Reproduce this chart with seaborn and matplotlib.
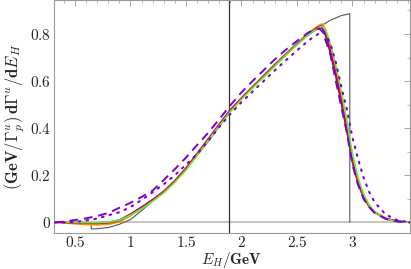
import matplotlib
matplotlib.use("Agg")
import matplotlib.pyplot as plt
import seaborn as sns
from matplotlib.ticker import MultipleLocator, FixedLocator, FuncFormatter

# common E_H grid for the coloured curves
e_h = [0.32, 0.4, 0.5, 0.6, 0.7, 0.8, 0.9, 1.0, 1.1, 1.2, 1.3, 1.4, 1.5, 1.6,
       1.7, 1.8, 1.9, 2.0, 2.1, 2.2, 2.3, 2.4, 2.5, 2.6, 2.65, 2.7, 2.73, 2.76,
       2.8, 2.85, 2.9, 2.95, 3.0, 3.05, 3.1, 3.15, 3.2, 3.3, 3.4, 3.52]

y_purple = [0.001, 0.0, -0.001, -0.002, -0.002, 0.0, 0.01, 0.035, 0.065, 0.097,
            0.132, 0.177, 0.23, 0.292, 0.354, 0.417, 0.478, 0.528, 0.575, 0.62,
            0.666, 0.712, 0.755, 0.797, 0.812, 0.826, 0.825, 0.79, 0.72, 0.62,
            0.505, 0.385, 0.255, 0.165, 0.105, 0.068, 0.043, 0.016, 0.005, 0.0]
y_orange = [0.0, -0.002, -0.006, -0.009, -0.01, -0.008, 0.002, 0.028, 0.06, 0.093,
            0.13, 0.175, 0.228, 0.29, 0.352, 0.415, 0.476, 0.527, 0.575, 0.621,
            0.668, 0.715, 0.76, 0.803, 0.82, 0.837, 0.842, 0.815, 0.75, 0.65,
            0.535, 0.41, 0.27, 0.17, 0.105, 0.065, 0.04, 0.014, 0.004, 0.0]
y_red = [0.001, 0.0, -0.002, -0.003, -0.004, -0.002, 0.008, 0.033, 0.063, 0.095,
         0.13, 0.175, 0.228, 0.29, 0.352, 0.415, 0.476, 0.527, 0.574, 0.62,
         0.667, 0.713, 0.757, 0.80, 0.816, 0.832, 0.834, 0.80, 0.735, 0.635,
         0.52, 0.40, 0.265, 0.17, 0.11, 0.07, 0.045, 0.017, 0.005, 0.0]
y_green = [0.003, 0.002, 0.0, -0.001, -0.001, 0.001, 0.01, 0.03, 0.058, 0.09,
           0.125, 0.17, 0.222, 0.284, 0.347, 0.41, 0.47, 0.522, 0.57, 0.616,
           0.663, 0.71, 0.754, 0.797, 0.812, 0.828, 0.833, 0.815, 0.76, 0.665,
           0.555, 0.43, 0.29, 0.19, 0.12, 0.075, 0.045, 0.015, 0.004, 0.0]
y_dashed = [0.0, 0.003, 0.01, 0.017, 0.027, 0.04, 0.062, 0.083, 0.108, 0.135,
            0.18, 0.226, 0.275, 0.328, 0.38, 0.438, 0.497, 0.552, 0.60, 0.646,
            0.692, 0.733, 0.77, 0.805, 0.818, 0.823, 0.81, 0.77, 0.715, 0.60,
            0.49, 0.38, 0.245, 0.16, 0.10, 0.065, 0.04, 0.015, 0.004, 0.0]
y_dotted = [0.0, 0.0, 0.002, 0.008, 0.016, 0.03, 0.043, 0.065, 0.095, 0.128,
            0.162, 0.2, 0.245, 0.29, 0.345, 0.405, 0.46, 0.51, 0.555, 0.60,
            0.645, 0.688, 0.73, 0.77, 0.788, 0.802, 0.808, 0.798, 0.76, 0.68,
            0.575, 0.48, 0.36, 0.27, 0.19, 0.13, 0.085, 0.033, 0.01, 0.0]

# partonic (thin black) curve
x_black = [0.647, 0.647, 0.7, 0.8, 0.9, 1.0, 1.1, 1.2, 1.3, 1.4, 1.5, 1.6, 1.7,
           1.8, 1.9, 2.0, 2.1, 2.2, 2.3, 2.4, 2.5, 2.6, 2.7, 2.8, 2.9, 2.976, 2.976]
y_black = [0.0, -0.028, -0.027, -0.022, -0.008, 0.012, 0.05, 0.09, 0.128, 0.174,
           0.226, 0.283, 0.343, 0.407, 0.471, 0.525, 0.576, 0.625, 0.672, 0.717,
           0.758, 0.795, 0.83, 0.858, 0.878, 0.886, 0.0]

x_cut = 1.89
x_ticks = [0.5, 1.0, 1.5, 2.0, 2.5, 3.0]

sns.set_style("white")
plt.rcParams["mathtext.fontset"] = "cm"
plt.rcParams["font.family"] = ["DejaVu Serif"]

fig = plt.figure(figsize=(4.11, 2.69), dpi=100)
ax = fig.add_axes([0.131, 0.133, 0.867, 0.866])

ax.axhline(0, color="#bbbbbb", lw=1.2, zorder=1)
ax.axvline(x_cut, color="#333333", lw=0.9, zorder=2)
sns.lineplot(x=x_black, y=y_black, sort=False, estimator=None, color="#555555",
             lw=0.8, ax=ax, zorder=3)

purple = "#7a00d6"
solid = [(y_purple, purple), (y_orange, "#ff8c00"), (y_red, "#e8001c"),
         (y_green, "#5cf03a")]
for ys, c in solid:
    sns.lineplot(x=e_h, y=ys, sort=False, estimator=None, color=c, lw=1.2,
                 ax=ax, zorder=4)
sns.lineplot(x=e_h, y=y_dashed, sort=False, estimator=None, color=purple,
             lw=1.4, ax=ax, zorder=5)
ax.lines[-1].set_dashes([4.5, 3])
sns.lineplot(x=e_h, y=y_dotted, sort=False, estimator=None, color=purple,
             lw=1.5, ax=ax, zorder=5)
ax.lines[-1].set_dashes([0.8, 3])
ax.lines[-1].set_dash_capstyle("round")

ax.set_xlim(0.31, 3.52)
ax.set_ylim(-0.046, 0.943)

ax.xaxis.set_major_locator(FixedLocator(x_ticks))
ax.xaxis.set_minor_locator(MultipleLocator(0.1))
ax.yaxis.set_major_locator(MultipleLocator(0.2))
ax.yaxis.set_minor_locator(MultipleLocator(0.1))


def fmt(v, pos):
    s = f"{v:g}"
    if abs(v) < 1e-9:
        s = "0"
    return r"$\mathbf{" + s + "}$"


ax.xaxis.set_major_formatter(FuncFormatter(fmt))
ax.yaxis.set_major_formatter(FuncFormatter(fmt))
ax.tick_params(which="both", direction="in", top=True, right=True,
               color="#999999", labelsize=11, pad=2)
ax.tick_params(axis="x", pad=1.5)
ax.tick_params(which="major", length=4, width=0.6)
ax.tick_params(which="minor", length=2.2, width=0.5)
for sp in ax.spines.values():
    sp.set_color("#999999")
    sp.set_linewidth(0.8)

ax.set_xlabel(r"$\boldsymbol{E_H}\mathbf{/GeV}$", fontsize=11)
ax.xaxis.set_label_coords(0.5, -0.074)
ax.set_ylabel(r"$\mathbf{(GeV/\Gamma^{\mathit{u}}_{\mathit{p}})\,d\Gamma^{\mathit{u}}/d}\boldsymbol{E_H}$",
              fontsize=12, labelpad=2)

fig.savefig("out.png", dpi=100)
